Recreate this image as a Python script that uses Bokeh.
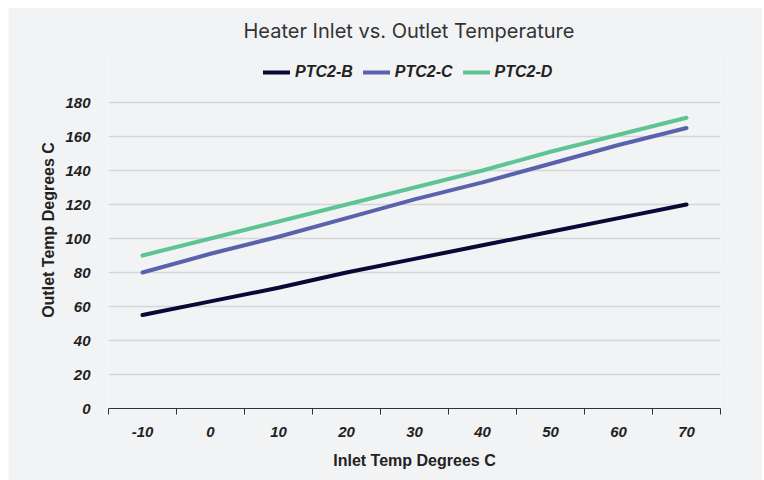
from bokeh.plotting import figure
from bokeh.models import (Range1d, FixedTicker, Legend, LegendItem, Title)
from bokeh.embed import file_html
from bokeh.resources import INLINE

inlet = [-10, 0, 10, 20, 30, 40, 50, 60, 70]
ptc2_b = [55, 63, 71, 80, 88, 96, 104, 112, 120]
ptc2_c = [80, 91, 101, 112, 123, 133, 144, 155, 165]
ptc2_d = [90, 100, 110, 120, 130, 140, 151, 161, 171]
y_ticks = [0, 20, 40, 60, 80, 100, 120, 140, 160, 180]
cat_edges = [-15, -5, 5, 15, 25, 35, 45, 55, 65, 75]

series = [("PTC2-B", ptc2_b, "#0b0836"),
          ("PTC2-C", ptc2_c, "#5b62ad"),
          ("PTC2-D", ptc2_d, "#5ec494")]

BG = "#f2f3f5"

p = figure(width=754, height=473, output_backend="svg", toolbar_location=None,
           x_range=Range1d(-15, 75), y_range=Range1d(0, 210),
           background_fill_color=BG, border_fill_color=BG,
           min_border_left=100, min_border_right=42, min_border_top=44,
           min_border_bottom=72, outline_line_color=None,
           margin=(7, 2, 0, 8))

p.title = Title(text="Heater Inlet vs. Outlet Temperature", align="left", offset=135,
                text_font="Inter", text_font_size="20px", text_font_style="normal",
                text_color="#333333", standoff=18)

items = []
for name, vals, col in series:
    r = p.line(inlet, vals, line_color=col, line_width=4, line_cap="round")
    items.append(LegendItem(label=name, renderers=[r]))

legend = Legend(items=items, orientation="horizontal", location=(155, 327),
                background_fill_alpha=0, border_line_color=None,
                label_text_font="Liberation Sans", label_text_font_size="16px",
                label_text_font_style="bold italic", label_text_color="#222222",
                glyph_width=27, glyph_height=14, spacing=10, label_standoff=5,
                padding=0, margin=0)
p.add_layout(legend, "center")

# x axis
xa = p.xaxis[0]
xa.ticker = FixedTicker(ticks=inlet, minor_ticks=cat_edges)
xa.major_label_overrides = {v: str(v) for v in inlet}
xa.axis_line_color = "#333333"
xa.major_tick_line_color = None
xa.major_tick_out = 0
xa.minor_tick_line_color = "#333333"
xa.minor_tick_in = 0
xa.minor_tick_out = 6
xa.major_label_standoff = 12
xa.major_label_text_font = "Liberation Sans"
xa.major_label_text_font_size = "15px"
xa.major_label_text_font_style = "bold italic"
xa.major_label_text_color = "#222222"
xa.axis_label = "Inlet Temp Degrees C"
xa.axis_label_text_font = "Liberation Sans"
xa.axis_label_text_font_size = "16px"
xa.axis_label_text_font_style = "bold"
xa.axis_label_text_color = "#222222"
xa.axis_label_standoff = 12

# y axis
ya = p.yaxis[0]
ya.ticker = FixedTicker(ticks=y_ticks, minor_ticks=[])
ya.axis_line_color = None
ya.major_tick_line_color = None
ya.minor_tick_line_color = None
ya.major_tick_out = 0
ya.major_label_standoff = 18
ya.major_label_text_font = "Liberation Sans"
ya.major_label_text_font_size = "15px"
ya.major_label_text_font_style = "bold italic"
ya.major_label_text_color = "#222222"
ya.axis_label = "Outlet Temp Degrees C"
ya.axis_label_text_font = "Liberation Sans"
ya.axis_label_text_font_size = "16px"
ya.axis_label_text_font_style = "bold"
ya.axis_label_text_color = "#222222"
ya.axis_label_standoff = 5

p.xgrid.grid_line_color = None
p.ygrid.ticker = FixedTicker(ticks=y_ticks)
p.ygrid.grid_line_color = "#d6d6d8"
p.ygrid.grid_line_width = 1.5

open("out.html", "w").write(file_html(p, INLINE))
